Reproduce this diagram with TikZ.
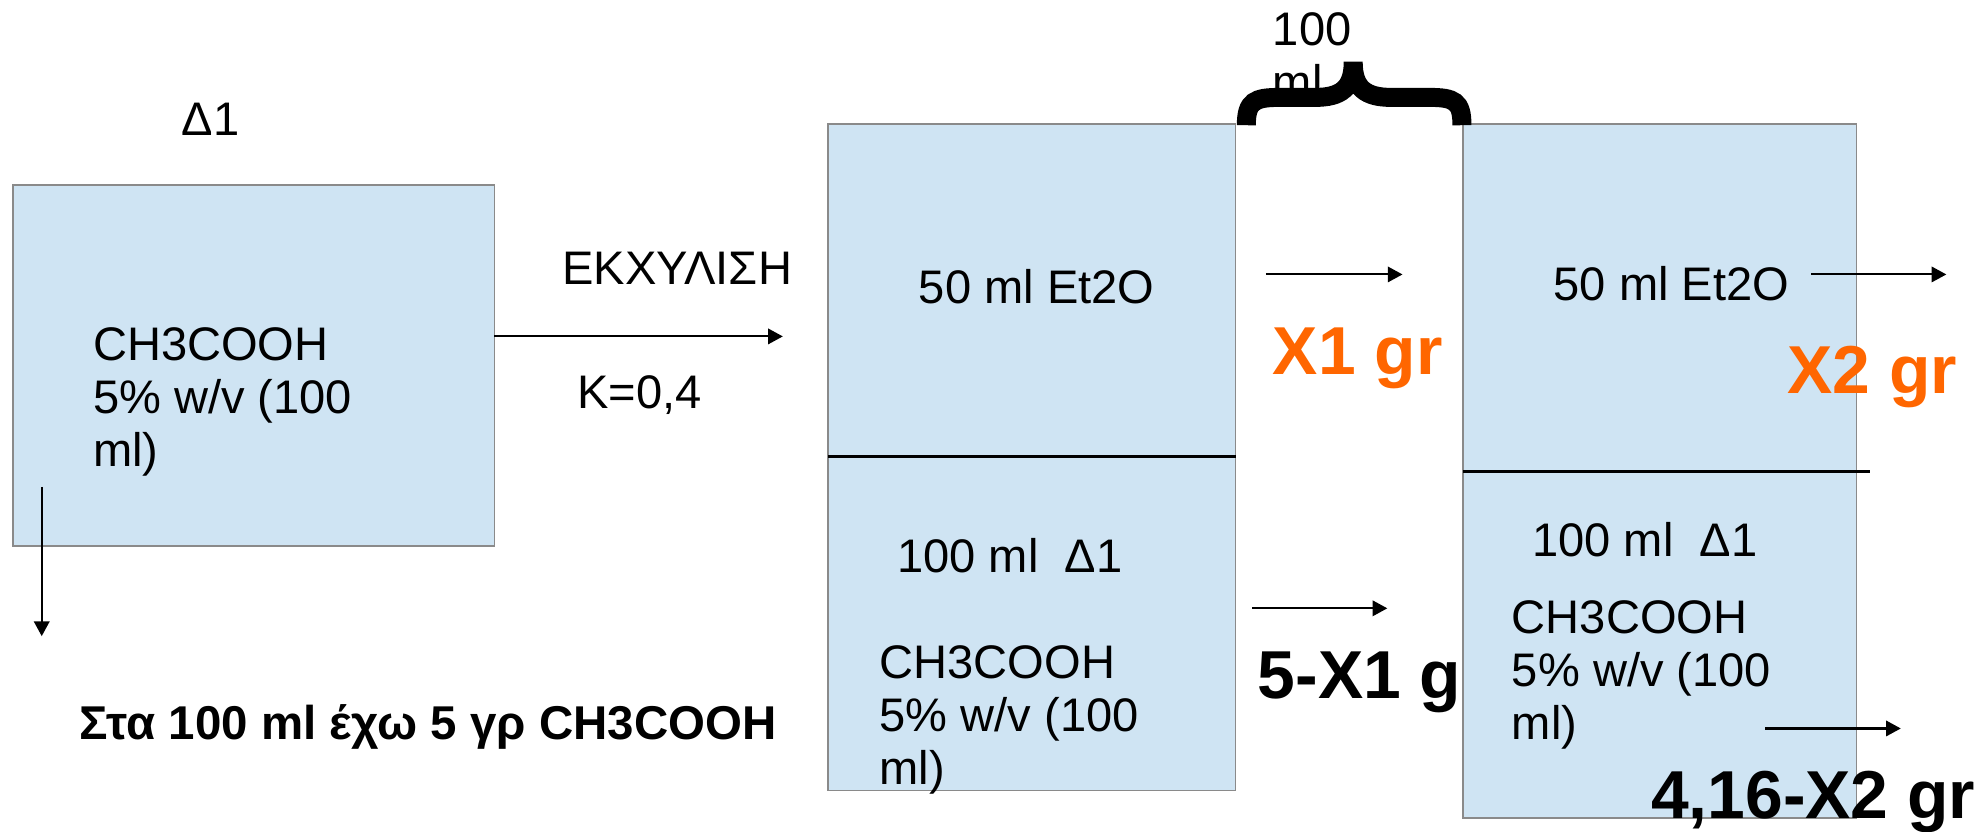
\documentclass[tikz,border=0pt]{standalone}
\usepackage{fontspec}
\setmainfont{Liberation Sans}
\usetikzlibrary{arrows.meta}

\definecolor{tankfill}{RGB}{207,228,243}
\definecolor{tankline}{RGB}{138,138,138}
\definecolor{yieldcol}{RGB}{255,102,0}

\begin{document}
\begin{tikzpicture}[
    x=0.01265cm, y=-0.01265cm,
    tank/.style={draw=tankline, fill=tankfill, line width=0.5pt},
    layer/.style={draw=black, line width=0.8pt},
    txt/.style={inner sep=0pt, anchor=base west, align=left, font=\fontsize{13.4}{15.1}\selectfont},
    result/.style={inner sep=0pt, anchor=base west, font=\fontsize{19.3}{22}\selectfont\bfseries},
    arrow/.style={-{Triangle[length=4.2pt,width=4.4pt]}, line width=0.6pt}
]
    \useasboundingbox (0,0) rectangle (1568,657.7);

    % the three solutions
    \draw[tank] (10,146) rectangle (391,432);
    \draw[tank] (655,98) rectangle (977,625);
    \draw[tank] (1157,98) rectangle (1468,647);
    \coordinate (sep1a) at (655,361);
    \coordinate (sep1b) at (977,361);
    \coordinate (sep2a) at (1157,373);
    \coordinate (sep2b) at (1479,373);
    \draw[layer] (sep1a) -- (sep1b);
    \draw[layer] (sep2a) -- (sep2b);

    % texts (multi-line ones sit on their last baseline)
    \node[txt] (d1) at (143,107) {Δ1};
    \node[txt] (feed) at (73,369) {CH3COOH\\5\% w/v (100\\ml)};
    \node[txt] (extr) at (444,225) {ΕΚΧΥΛΙΣΗ};
    \node[txt] (kval) at (456,323) {K=0,4};
    \node[txt] (eth1) at (726,240) {50 ml Et2O};
    \node[txt] (aq1) at (709,453) {100 ml \ Δ1};
    \node[txt] (sol1) at (695,620.5) {CH3COOH\\5\% w/v (100\\ml)};
    \node[txt] (eth2) at (1228,238) {50 ml Et2O};
    \node[txt] (aq2) at (1211,440) {100 ml \ Δ1};
    \node[txt] (sol2) at (1195,585) {CH3COOH\\5\% w/v (100\\ml)};
    \node[txt] (vol) at (1006,78) {100\\ml};
    \node[result, text=yieldcol] (x1) at (1006,296) {X1 gr};
    \node[result, text=yieldcol] (x2) at (1413,311) {X2 gr};
    \node[result] (rest1) at (994,552) {5-X1 g};
    \node[result] (rest2) at (1305,647) {4,16-X2 gr};
    \node[txt, font=\fontsize{13.5}{15}\selectfont\bfseries] (note) at (62,585) {Στα 100 ml έχω 5 γρ CH3COOH};

    % arrows
    \coordinate (a1s) at (391,266);  \coordinate (a1e) at (619,266);
    \coordinate (a2s) at (33,385);   \coordinate (a2e) at (33,503);
    \coordinate (a3s) at (1001,217); \coordinate (a3e) at (1109,217);
    \coordinate (a4s) at (990,481);  \coordinate (a4e) at (1097,481);
    \coordinate (a5s) at (1432,217); \coordinate (a5e) at (1539,217);
    \coordinate (a6s) at (1396,576); \coordinate (a6e) at (1503,576);
    \draw[arrow] (a1s) -- (a1e);
    \draw[arrow] (a2s) -- (a2e);
    \draw[arrow] (a3s) -- (a3e);
    \draw[arrow] (a4s) -- (a4e);
    \draw[arrow] (a5s) -- (a5e);
    \draw[arrow] (a6s) -- (a6e);

    % brace
    \draw[line width=5.4pt] (985.5,99) .. controls (985.5,80) and (992,77) .. (1012,77)
        -- (1040,77) .. controls (1060,77) and (1070,70) .. (1070,49)
        .. controls (1070,70) and (1080,77) .. (1100,77)
        -- (1130,77) .. controls (1150,77) and (1156,80) .. (1156,99);
\end{tikzpicture}
\end{document}
